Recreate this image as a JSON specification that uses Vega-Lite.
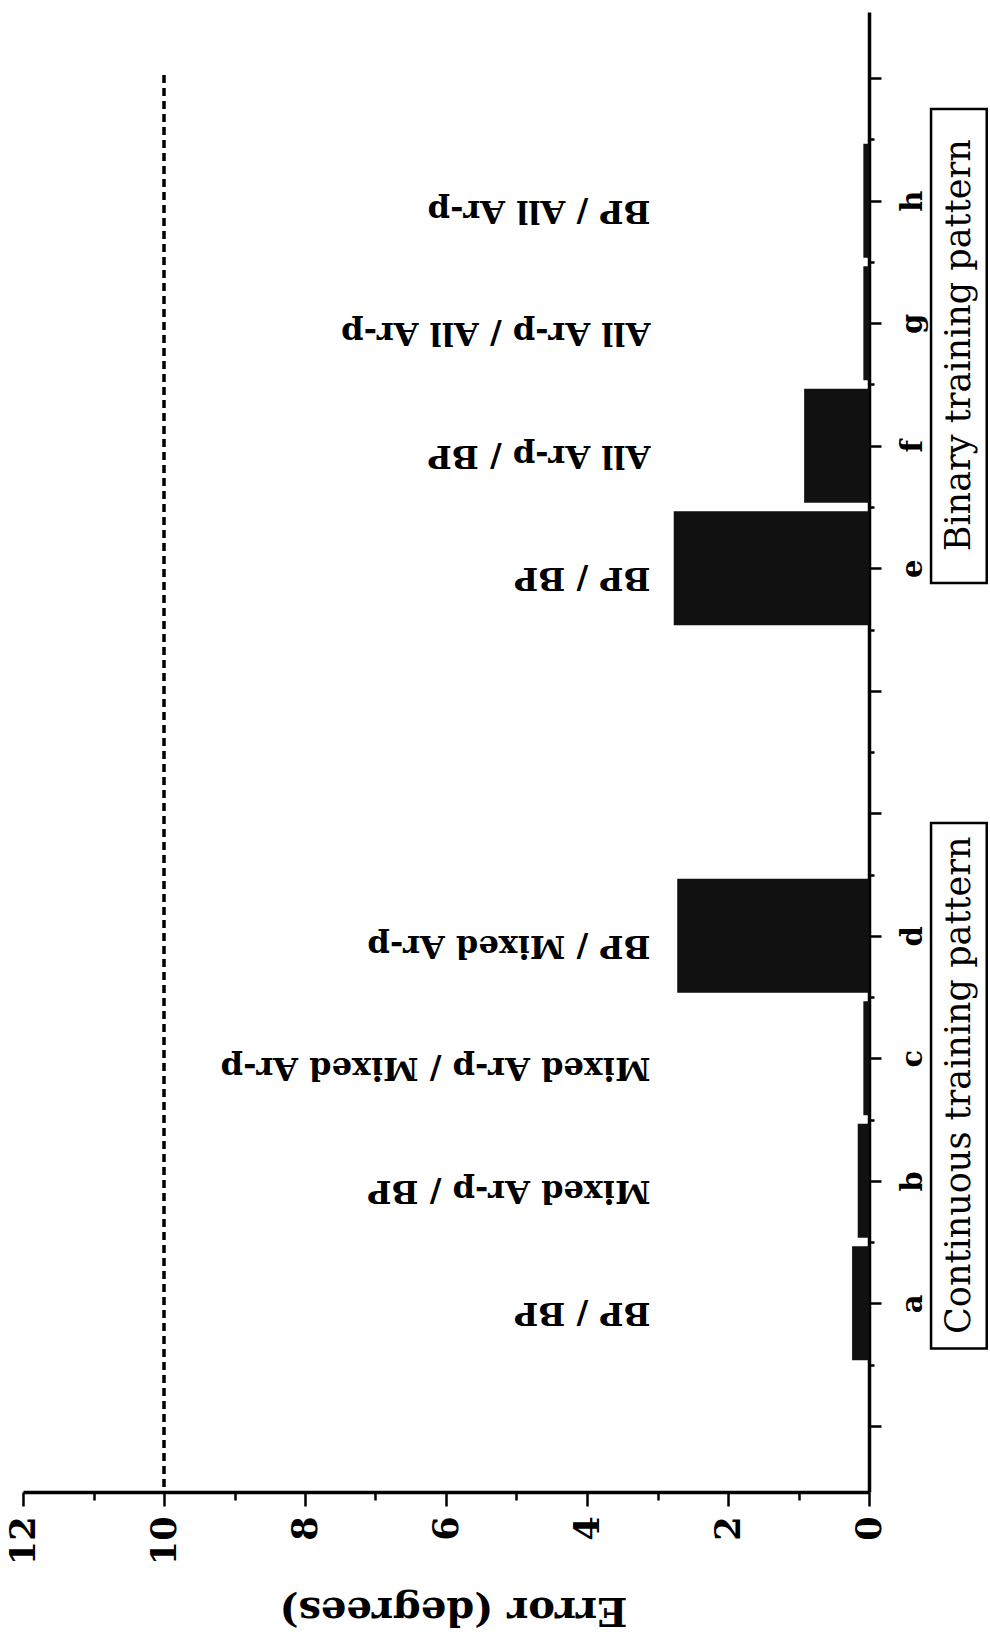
{
  "$schema": "https://vega.github.io/schema/vega-lite/v6.json",
  "width": 846,
  "height": 1480,
  "autosize": {"type": "none"},
  "padding": {"left": 23, "top": 12, "right": 121, "bottom": 142},
  "background": "white",
  "config": {
    "view": {"stroke": null},
    "font": "DejaVu Serif"
  },
  "datasets": {
    "bars": [
      {"cat": "a", "pos": 1, "error": 0.24, "label": "BP / BP"},
      {"cat": "b", "pos": 2, "error": 0.16, "label": "Mixed Ar-p / BP"},
      {"cat": "c", "pos": 3, "error": 0.08, "label": "Mixed Ar-p / Mixed Ar-p"},
      {"cat": "d", "pos": 4, "error": 2.72, "label": "BP / Mixed Ar-p"},
      {"cat": "e", "pos": 7, "error": 2.77, "label": "BP / BP"},
      {"cat": "f", "pos": 8, "error": 0.92, "label": "All Ar-p / BP"},
      {"cat": "g", "pos": 9, "error": 0.08, "label": "All Ar-p / All Ar-p"},
      {"cat": "h", "pos": 10, "error": 0.08, "label": "BP / All Ar-p"}
    ],
    "groups": [
      {"group": "Continuous training pattern", "start": 0.63, "end": 4.92, "mid": 2.78},
      {"group": "Binary training pattern", "start": 6.88, "end": 10.75, "mid": 8.82}
    ],
    "threshold": [{"error": 10, "from": -0.5, "to": 11.03}]
  },
  "layer": [
    {
      "data": {"name": "threshold"},
      "mark": {"type": "rule", "color": "black", "strokeWidth": 3.5, "strokeDash": [8, 5]},
      "encoding": {
        "x": {"field": "error", "type": "quantitative"},
        "y": {"field": "from", "type": "quantitative"},
        "y2": {"field": "to"}
      }
    },
    {
      "data": {"name": "bars"},
      "mark": {"type": "bar", "orient": "horizontal", "size": 114, "color": "#111111"},
      "encoding": {
        "x": {
          "field": "error",
          "type": "quantitative",
          "scale": {"domain": [0, 12], "reverse": true, "nice": false},
          "axis": {
            "orient": "bottom",
            "values": [0, 1, 2, 3, 4, 5, 6, 7, 8, 9, 10, 11, 12],
            "labelExpr": "datum.value % 2 === 0 ? format(datum.value, 'd') : ''",
            "grid": false,
            "domainColor": "black",
            "domainWidth": 3.5,
            "tickColor": "black",
            "tickWidth": 2.5,
            "tickSize": {"condition": {"test": "datum.value % 2 === 0", "value": 14}, "value": 8},
            "labelAngle": -90,
            "labelAlign": "right",
            "labelBaseline": "middle",
            "labelFont": "DejaVu Serif",
            "labelFontWeight": "bold",
            "labelFontSize": 35,
            "labelColor": "black",
            "labelPadding": 10,
            "labelFlush": false,
            "labelOverlap": false,
            "title": "Error (degrees)",
            "titleFont": "DejaVu Serif",
            "titleFontWeight": "bold",
            "titleFontSize": 40,
            "titleColor": "black",
            "titleAngle": 180,
            "titleAlign": "center",
            "titleBaseline": "middle",
            "titleX": 430,
            "titleY": 117
          }
        },
        "y": {
          "field": "pos",
          "type": "quantitative",
          "scale": {"domain": [-0.5, 11.5], "nice": false, "zero": false},
          "axis": {
            "orient": "right",
            "values": [0, 0.5, 1, 1.5, 2, 2.5, 3, 3.5, 4, 4.5, 5, 5.5, 6, 6.5, 7, 7.5, 8, 8.5, 9, 9.5, 10, 10.5, 11],
            "labelExpr": "datum.value === 1 ? 'a' : datum.value === 2 ? 'b' : datum.value === 3 ? 'c' : datum.value === 4 ? 'd' : datum.value === 7 ? 'e' : datum.value === 8 ? 'f' : datum.value === 9 ? 'g' : datum.value === 10 ? 'h' : ''",
            "grid": false,
            "domainColor": "black",
            "domainWidth": 3.5,
            "tickColor": "black",
            "tickWidth": 2.5,
            "tickSize": {"condition": {"test": "datum.value % 1 === 0", "value": 12}, "value": 5},
            "labelAngle": -90,
            "labelAlign": "center",
            "labelBaseline": "top",
            "labelFont": "DejaVu Serif",
            "labelFontWeight": "bold",
            "labelFontSize": 29,
            "labelColor": "black",
            "labelPadding": 17,
            "labelFlush": false,
            "labelOverlap": false,
            "title": null
          }
        }
      }
    },
    {
      "data": {"name": "bars"},
      "mark": {"type": "text", "angle": 180, "align": "left", "baseline": "alphabetic", "font": "DejaVu Serif", "fontWeight": "bold", "fontSize": 32, "color": "black"},
      "encoding": {
        "x": {"datum": 3.1, "type": "quantitative"},
        "y": {"field": "pos", "type": "quantitative"},
        "text": {"field": "label"}
      }
    },
    {
      "data": {"name": "groups"},
      "mark": {"type": "rect", "fill": "white", "stroke": "black", "strokeWidth": 2.5},
      "encoding": {
        "x": {"datum": -0.88, "type": "quantitative"},
        "x2": {"datum": -1.67},
        "y": {"field": "start", "type": "quantitative"},
        "y2": {"field": "end"}
      }
    },
    {
      "data": {"name": "groups"},
      "mark": {"type": "text", "angle": -90, "align": "center", "baseline": "middle", "font": "DejaVu Serif", "fontSize": 35, "color": "black"},
      "encoding": {
        "x": {"datum": -1.28, "type": "quantitative"},
        "y": {"field": "mid", "type": "quantitative"},
        "text": {"field": "group"}
      }
    }
  ]
}
